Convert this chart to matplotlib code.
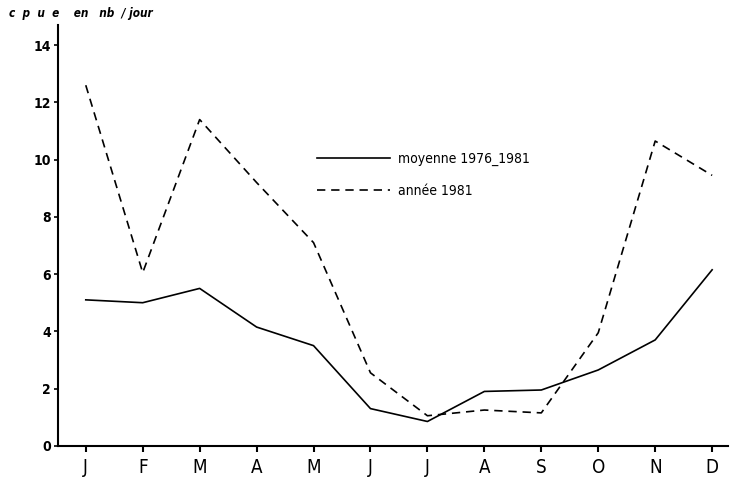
import matplotlib
matplotlib.use("Agg")
import matplotlib.pyplot as plt

# données
mois = ["J", "F", "M", "A", "M", "J", "J", "A", "S", "O", "N", "D"]
moyenne_76_81 = [5.1, 5.0, 5.5, 4.15, 3.5, 1.3, 0.85, 1.9, 1.95, 2.65, 3.7, 6.15]
annee_1981 = [12.6, 6.05, 11.4, 9.2, 7.1, 2.55, 1.05, 1.25, 1.15, 3.95, 10.65, 9.45]
yticks = [0, 2, 4, 6, 8, 10, 12, 14]

plt.rcParams["font.family"] = ["DejaVu Sans"]
plt.rcParams["font.stretch"] = "condensed"

fig = plt.figure(figsize=(7.31, 4.83), dpi=100)
ax = fig.add_axes([0.079, 0.077, 0.917, 0.871])

x = list(range(1, len(mois) + 1))
ax.plot(x, moyenne_76_81, color="black", lw=1.2, label="moyenne 1976_1981")
ax.plot(x, annee_1981, color="black", lw=1.2, linestyle=(0, (5, 3.5)),
        label="année 1981")

ax.set_xlim(0.508, 12.28)
ax.set_ylim(0, 14.7)
ax.set_xticks(x)
ax.set_xticklabels(mois, fontsize=13.5)
ax.set_yticks(yticks)
ax.set_yticklabels([str(v) for v in yticks], fontsize=10, fontweight="bold")

for side in ["top", "right"]:
    ax.spines[side].set_visible(False)
for side in ["left", "bottom"]:
    ax.spines[side].set_linewidth(1.5)
ax.tick_params(axis="x", direction="out", length=4, width=1.5, pad=5)
ax.tick_params(axis="y", direction="out", length=3, width=1.2, pad=2)

fig.text(0.012, 0.972, "c  p  u  e    en   nb  / jour", fontsize=8.5,
         style="italic", fontweight="bold", ha="left", va="center")

ax.legend(loc="upper left", bbox_to_anchor=(0.434, 0.685),
          bbox_transform=fig.transFigure, frameon=False, fontsize=10,
          handlelength=5.25, handletextpad=0.55, labelspacing=1.25,
          borderpad=0, borderaxespad=0)

fig.savefig("out.png", dpi=100)
